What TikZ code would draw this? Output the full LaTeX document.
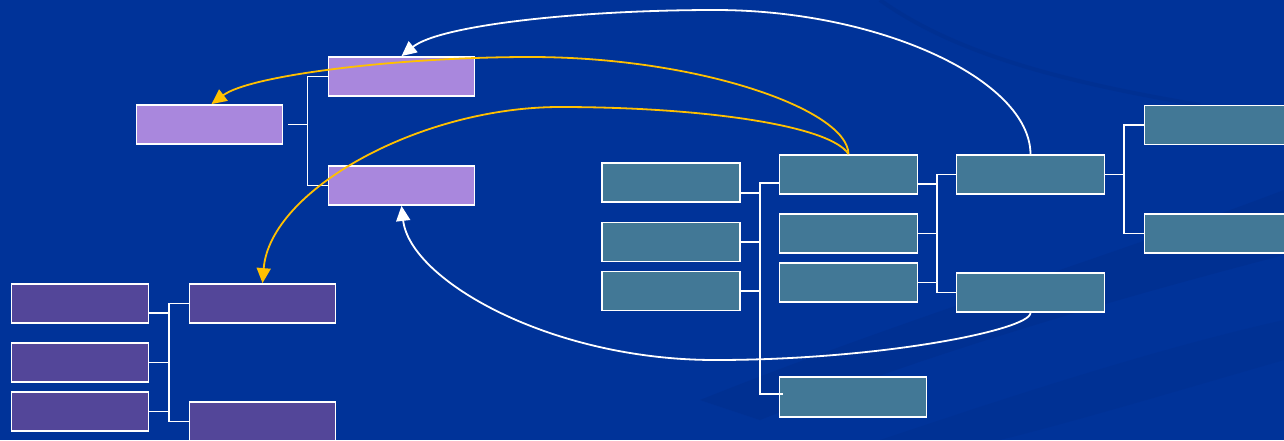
\documentclass[tikz,border=0pt]{standalone}
\usepackage{xcolor}
\usepackage{tikz}
\usetikzlibrary{arrows.meta}
\definecolor{slideblue}{HTML}{003399}
\definecolor{swoosh}{HTML}{00287F}
\definecolor{lavender}{HTML}{A987DD}
\definecolor{grape}{HTML}{534699}
\definecolor{steel}{HTML}{427896}
\definecolor{amber}{HTML}{FFC000}
\tikzset{
	box/.style={rectangle,draw=white,line width=1.8pt,inner sep=0pt,minimum height=39pt},
	link/.style={draw=white,line width=1.8pt},
	wlink/.style={draw=white,line width=1.8pt,-{Triangle[length=15pt,width=14pt]}},
	ylink/.style={draw=amber,line width=1.8pt,-{Triangle[length=15pt,width=14pt]}}
}

\begin{document}
\begin{tikzpicture}[x=1pt,y=-1pt]
  \useasboundingbox (0,0) rectangle (1284,440);
  \fill[slideblue] (0,0) rectangle (1284,440);
  \fill[swoosh,opacity=0.25] (700,400) .. controls (900,320) and (1100,260) .. (1284,190)
    -- (1284,255) .. controls (1150,290) and (950,345) .. (760,420) -- cycle;
  \fill[swoosh,opacity=0.18] (880,440) .. controls (1000,400) and (1150,350) .. (1284,320)
    -- (1284,360) .. controls (1180,390) and (1080,420) .. (1000,440) -- cycle;
  \draw[swoosh,opacity=0.25,line width=4pt] (880,0) .. controls (950,50) and (1050,80) .. (1200,105);

    \tikzstyle{lbox}=[box,fill=lavender,minimum width=146pt]
    \tikzstyle{gbox}=[box,fill=grape,minimum width=137pt]
    \tikzstyle{sbox}=[box,fill=steel,minimum width=138pt]

  \node (lroot) at (209.5,124.5) [lbox] {};
  \node (ltop) at (401.5,76.5) [lbox] {};
  \node (lbot) at (401.5,185.5) [lbox] {};

  \node (gin1) at (80,303.5) [gbox] {};
  \node (gin2) at (80,362.5) [gbox] {};
  \node (gin3) at (80,411.5) [gbox] {};
  \node (gtop) at (262.5,303.5) [gbox,minimum width=146pt] {};
  \node (gbot) at (262.5,421.5) [gbox,minimum width=146pt] {};

  \node (sin1) at (671,182.5) [sbox] {};
  \node (sin2) at (671,242) [sbox] {};
  \node (sin3) at (671,291) [sbox] {};
  \node (smid1) at (848.5,174.5) [sbox] {};
  \node (smid2) at (848.5,233.5) [sbox] {};
  \node (smid3) at (848.5,282.5) [sbox] {};
  \node (slow) at (853,397) [sbox,minimum width=147pt,minimum height=40pt] {};
  \node (sup1) at (1030.5,174.5) [sbox,minimum width=148pt] {};
  \node (sup2) at (1030.5,292.5) [sbox,minimum width=148pt] {};
  \node (send1) at (1218.5,125) [sbox,minimum width=148pt] {};
  \node (send2) at (1218.5,233.5) [sbox,minimum width=148pt] {};

  \coordinate (ltrunk) at (307.5,0);
  \coordinate (gtrunk) at (169,0);
  \coordinate (strunk1) at (760.5,0);
  \coordinate (strunk2) at (937,0);
  \coordinate (strunk3) at (1124,0);

  \draw[link] ([xshift=5]lroot.east) -- (lroot.east -| ltrunk);
  \draw[link] (ltop.west) -| (ltrunk |- lbot.west) -- (lbot.west);

  \draw[link] (gtop.west) -| (gtrunk |- gbot.west) -- (gbot.west);
  \draw[link] ([yshift=-9.5]gin1.east) -- ++(20,0);
  \draw[link] (gin2.east) -- (gin2.east -| gtrunk);
  \draw[link] (gin3.east) -- (gin3.east -| gtrunk);

  \draw[link] ([yshift=-8.5]smid1.west) -- ++(-19,0) -- ([xshift=-19,yshift=3]slow.west) -- ([xshift=4,yshift=3]slow.west);
  \draw[link] ([yshift=-10.5]sin1.east) -- ++(20,0);
  \draw[link] (sin2.east) -- (sin2.east -| strunk1);
  \draw[link] (sin3.east) -- (sin3.east -| strunk1);

  \draw[link] (sup1.west) -| (strunk2 |- sup2.west) -- (sup2.west);
  \draw[link] ([yshift=-9.5]smid1.east) -- ++(19,0);
  \draw[link] (smid2.east) -- (smid2.east -| strunk2);
  \draw[link] (smid3.east) -- (smid3.east -| strunk2);

  \draw[link] (sup1.east) -- (sup1.east -| strunk3);
  \draw[link] (send1.west) -| (strunk3 |- send2.west) -- (send2.west);

  \coordinate (wtop) at (715,10);
  \coordinate (wbot) at (715,360);
  \coordinate (ytop) at (530,57);
  \coordinate (ymid) at (560,107);

  \draw[wlink] (sup1.north) .. controls (1030,80) and (880,10) .. (wtop)
    .. controls (580,10) and (440,25) .. (ltop.north);
  \draw[wlink] (sup2.south) .. controls (1030,330) and (880,360) .. (wbot)
    .. controls (550,360) and (410,280) .. (lbot.south);
  \draw[ylink] (smid1.north) .. controls (848,110) and (700,57) .. (ytop)
    .. controls (400,57) and (250,75) .. ([xshift=2]lroot.north);
  \draw[ylink] (smid1.north) .. controls (830,125) and (700,107) .. (ymid)
    .. controls (420,107) and (270,190) .. (gtop.north);
    \end{tikzpicture}
\end{document}
